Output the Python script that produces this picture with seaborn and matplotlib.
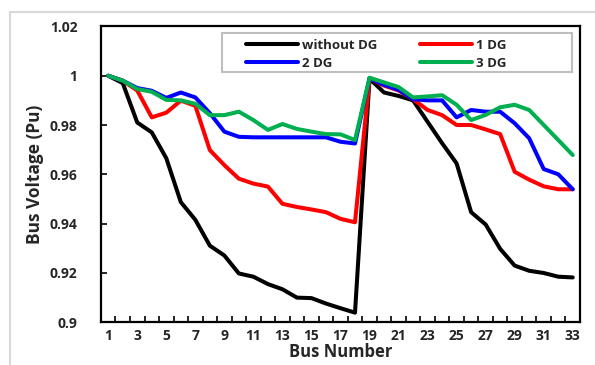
import numpy
import pandas
import seaborn
import matplotlib.pyplot as pyplot
from matplotlib.lines import Line2D
from matplotlib.patches import Rectangle
from matplotlib.ticker import FixedLocator

seaborn.set(style='ticks')
pyplot.rcParams['font.family'] = ['Open Sans', 'DejaVu Sans']
pyplot.rcParams['font.weight'] = 'bold'

bus = list(range(1, 34))
without_dg = [1.0, 0.997, 0.981, 0.977, 0.9665, 0.9487, 0.9415, 0.931, 0.927, 0.9197, 0.9184,
              0.9154, 0.9133, 0.9099, 0.9097, 0.9075, 0.9056, 0.9038, 0.9988, 0.9932, 0.9918,
              0.990, 0.9813, 0.9726, 0.9644, 0.9446, 0.9396, 0.9297, 0.9229, 0.9208, 0.9199,
              0.9184, 0.9181]
dg1 = [1.0, 0.998, 0.994, 0.9831, 0.985, 0.9899, 0.9878, 0.9698, 0.9637, 0.9582, 0.9562,
       0.9550, 0.948, 0.9467, 0.9457, 0.9446, 0.9419, 0.9405, 0.9990, 0.996, 0.994,
       0.9905, 0.9861, 0.984, 0.980, 0.980, 0.9782, 0.9763, 0.961, 0.9578, 0.9551,
       0.9539, 0.9539]
dg2 = [1.0, 0.998, 0.995, 0.9939, 0.991, 0.9932, 0.9912, 0.9848, 0.9773, 0.9752, 0.975,
       0.975, 0.975, 0.975, 0.975, 0.975, 0.9732, 0.9725, 0.9990, 0.9963, 0.9943,
       0.9905, 0.990, 0.990, 0.9831, 0.9861, 0.9854, 0.9854, 0.9807, 0.9746, 0.9621,
       0.960, 0.9539]
dg3 = [1.0, 0.998, 0.9946, 0.9935, 0.9902, 0.990, 0.9886, 0.984, 0.984, 0.9854, 0.982,
       0.978, 0.9804, 0.9784, 0.9773, 0.9763, 0.9762, 0.9739, 0.9992, 0.9973, 0.9954,
       0.9912, 0.9916, 0.9921, 0.9882, 0.982, 0.9841, 0.9872, 0.9882, 0.9861, 0.980,
       0.9739, 0.9678]
series_names = ["without DG", "1 DG", "2 DG", "3 DG"]
colours = ["#000000", "#FF0000", "#0000FF", "#00B050"]

data = pandas.DataFrame({
    "bus": bus * 4,
    "voltage": without_dg + dg1 + dg2 + dg3,
    "case": numpy.repeat(series_names, len(bus)),
})

fig = pyplot.figure(figsize=(5.95, 3.65), dpi=100)
ax = fig.add_axes([0.1697, 0.1178, 0.8051, 0.8096])

seaborn.lineplot(data=data, x="bus", y="voltage", hue="case", hue_order=series_names,
                 palette=colours, linewidth=2.9, ax=ax, legend=False)

ax.set_xlim(0.5, 33.5)
ax.set_ylim(0.9, 1.02)
ax.set_xticks(bus[::2])
ax.set_xticklabels([str(b) for b in bus[::2]], fontsize=10, fontweight='bold')
ax.xaxis.set_minor_locator(FixedLocator(numpy.arange(1.5, 33, 1.0)))
ax.tick_params(axis='x', which='major', length=0, pad=5)
ax.tick_params(axis='x', which='minor', direction='in', length=4, width=1.2, color='black')
yt = [0.9, 0.92, 0.94, 0.96, 0.98, 1.0, 1.02]
ax.set_yticks(yt)
ax.set_yticklabels(["0.9", "0.92", "0.94", "0.96", "0.98", "1", "1.02"], fontsize=10, fontweight='bold')
ax.tick_params(axis='y', direction='in', length=4, width=1.2, color='black', pad=17)
for s in ax.spines.values():
    s.set_color('black')
    s.set_linewidth(1.6)

ax.set_xlabel("Bus Number", fontsize=12, fontweight='bold', labelpad=0)
ax.set_ylabel("Bus Voltage (Pu)", fontsize=12.5, fontweight='bold', labelpad=4)

# legend box outline (Excel style, wider than its content)
ax.add_patch(Rectangle((0.2526, 0.846), 0.7307, 0.132, transform=ax.transAxes,
                       facecolor='white', edgecolor='#bfbfbf', linewidth=1.5, zorder=4))
handles = [Line2D([], [], color=c, linewidth=2.9) for c in colours]
order = [0, 2, 1, 3]
leg = ax.legend([handles[i] for i in order], [series_names[i] for i in order],
                ncol=2, loc='upper left', bbox_to_anchor=(0.281, 0.995),
                frameon=False, handlelength=3.9, handletextpad=0.3, columnspacing=3.3,
                prop={'size': 9.5, 'weight': 'bold'}, labelspacing=0.4, borderpad=0.3)
leg.set_zorder(5)

fig.add_artist(Line2D([10 / 595, 1.0], [1 - 12 / 365, 1 - 12 / 365], transform=fig.transFigure,
                      color='#d9d9d9', linewidth=1.5))
fig.add_artist(Line2D([10 / 595, 10 / 595], [0, 1 - 12 / 365], transform=fig.transFigure,
                      color='#d9d9d9', linewidth=1.5))

fig.savefig("out.png", dpi=100)
